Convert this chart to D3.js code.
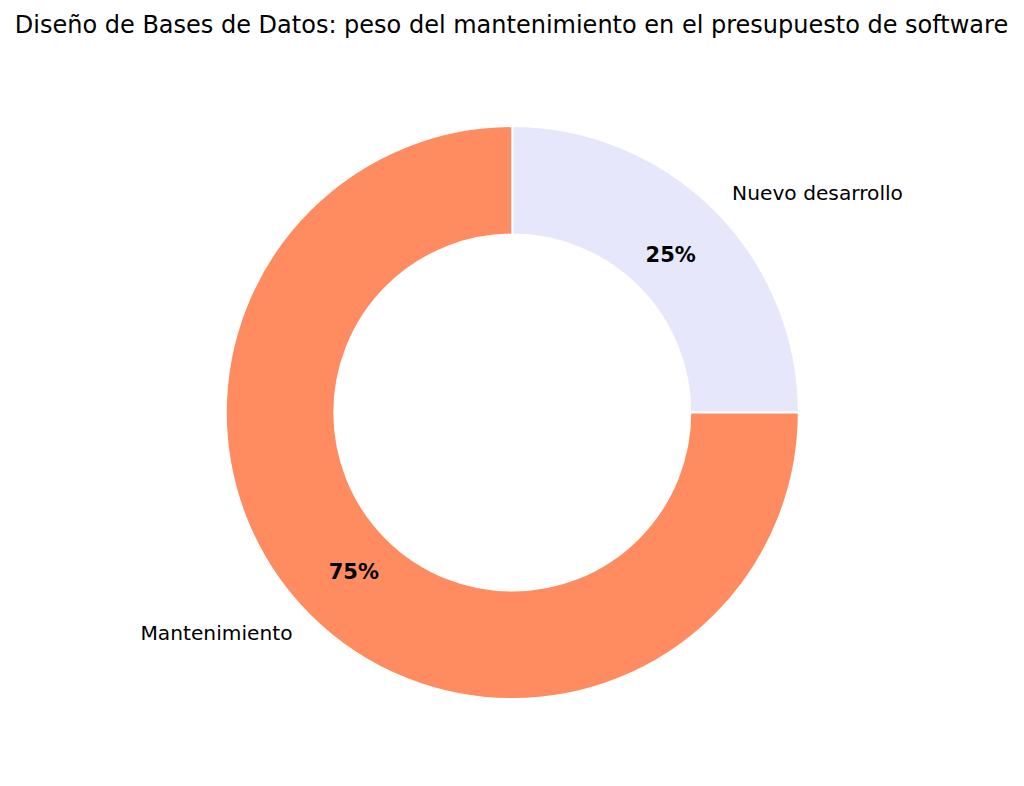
<!DOCTYPE html>
<html><head><meta charset="utf-8">
<script src="https://cdn.jsdelivr.net/npm/d3@7"></script>
<style>body{margin:0;background:#fff}svg{display:block}</style>
</head><body>
<svg id="c" width="1024" height="786"></svg>
<script>
const categories = ["Nuevo desarrollo", "Mantenimiento"];
const values = [25, 75];
const colors = ["#E7E7FB", "#FF8C61"];
const title = "Diseño de Bases de Datos: peso del mantenimiento en el presupuesto de software";

const svg = d3.select("#c");
const cx = 512.3, cy = 412.6, R = 286.5, r = 178;
const font = "DejaVu Sans, sans-serif";

svg.append("text").attr("x", 511.5).attr("y", 32.7)
  .attr("text-anchor", "middle")
  .attr("font-family", font).attr("font-size", 24).attr("fill", "#000")
  .text(title);

const pie = d3.pie().sort(null).value(d => d.v)
  .startAngle(0).endAngle(2 * Math.PI);
const data = categories.map((c, i) => ({c, v: values[i], col: colors[i]}));
const arcs = pie(data);
const arc = d3.arc().innerRadius(r).outerRadius(R);
const g = svg.append("g").attr("transform", `translate(${cx},${cy})`);

g.selectAll("path").data(arcs).join("path")
  .attr("d", arc).attr("fill", d => d.data.col)
  .attr("stroke", "#fff").attr("stroke-width", 2);

const total = d3.sum(values);
const capHalf = 0.3645;
arcs.forEach(a => {
  const mid = (a.startAngle + a.endAngle) / 2;
  const sx = Math.sin(mid), sy = -Math.cos(mid);
  const lr = R * 1.085, fs = 20.2;
  g.append("text").attr("x", sx * lr).attr("y", sy * lr + capHalf * fs)
    .attr("text-anchor", sx >= 0 ? "start" : "end")
    .attr("font-family", font).attr("font-size", fs).attr("fill", "#000")
    .text(a.data.c);
  const pr = R * 0.782, pfs = 21;
  g.append("text").attr("x", sx * pr).attr("y", sy * pr + capHalf * pfs)
    .attr("text-anchor", "middle")
    .attr("font-family", font).attr("font-size", pfs).attr("font-weight", "bold").attr("fill", "#000")
    .text(Math.round(a.data.v / total * 100) + "%");
});
</script>
</body></html>
